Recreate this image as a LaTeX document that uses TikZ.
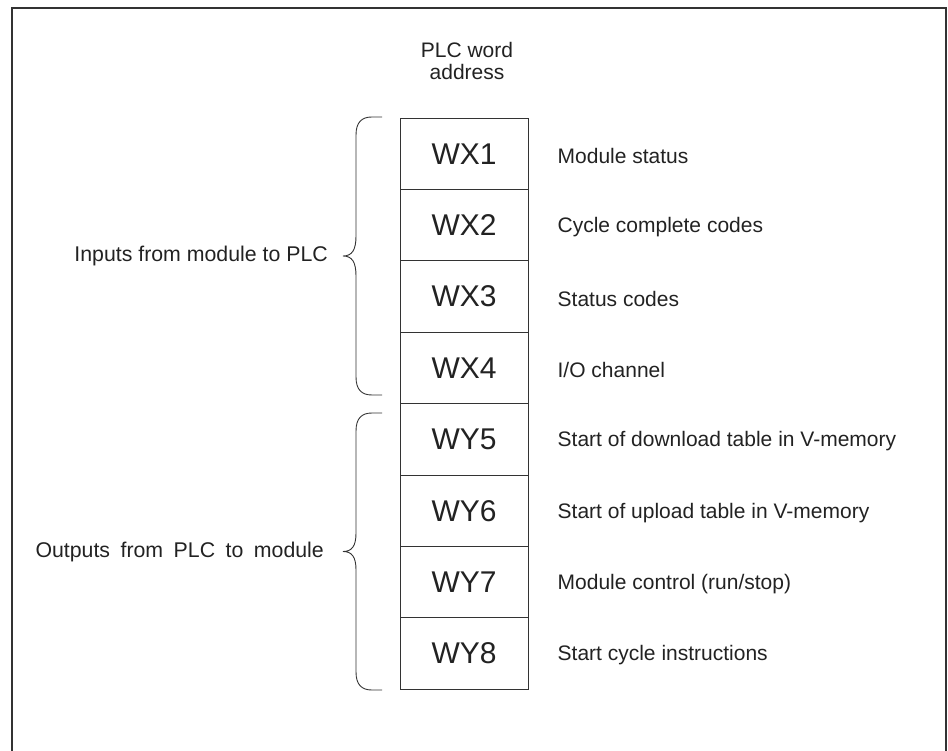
\documentclass[tikz,border=0pt]{standalone}
\usepackage{fontspec}
\setmainfont{Liberation Sans}
\definecolor{ink}{HTML}{222222}
\definecolor{rule}{HTML}{333333}
\begin{document}
\begin{tikzpicture}[x=1pt,y=-1pt,
  cell/.style={draw=rule,line width=0.9pt,minimum width=128pt,minimum height=71.4pt,
    inner sep=0pt,font=\fontsize{30}{30}\selectfont,text=ink},
  desc/.style={anchor=west,inner sep=0pt,font=\fontsize{21}{21}\selectfont,text=ink},
  side/.style={anchor=east,inner sep=0pt,font=\fontsize{21.3}{21}\selectfont,text=ink},
  bracket/.style={draw=rule,line width=0.9pt}]
\useasboundingbox (0,0) rectangle (948,751);
% open frame
\draw[rule,line width=2pt] (12,751) -- (12,8) -- (946,8) -- (946,751);
% heading
\node[align=center,inner sep=0pt,text=ink,font=\fontsize{21}{22.5}\selectfont] (head) at (467,61) {PLC word\\address};
% register column
\foreach \i/\t in {1/WX1,2/WX2,3/WX3,4/WX4,5/WY5,6/WY6,7/WY7,8/WY8}{
  \node[cell] (r\i) at (464,{118+71.4*(\i-0.5)}) {\t};
}
% descriptions
\foreach \i/\t in {1/{Module status},2/{Cycle complete codes},3/{Status codes},4/{I/O channel},
  5/{Start of download table in V-memory},6/{Start of upload table in V-memory},
  7/{Module control (run/stop)},8/{Start cycle instructions}}{
  \node[desc] (l\i) at ([xshift=29pt,yshift=-2pt]r\i.east) {\t};
}
% braces
\coordinate (ia) at (382,117);
\coordinate (ib) at (382,395);
\coordinate (oa) at (382,413);
\coordinate (ob) at (382,690);
\draw[bracket] (ia) -- (372,117) .. controls (362,117) and (356,122) .. (356,135)
  -- (356,236) .. controls (356,250) and (352,256) .. (343,256)
  .. controls (352,256) and (356,262) .. (356,276)
  -- (356,377) .. controls (356,390) and (362,395) .. (372,395) -- (ib);
\draw[bracket] (oa) -- (372,413) .. controls (362,413) and (356,418) .. (356,431)
  -- (356,533) .. controls (356,546) and (352,551.5) .. (343,551.5)
  .. controls (352,551.5) and (356,557) .. (356,570)
  -- (356,672) .. controls (356,685) and (362,690) .. (372,690) -- (ob);
\node[side] (inp) at (328,256) {Inputs from module to PLC};
\node[side] (outp) at (324,551.5) {\spaceskip=10.5pt Outputs from PLC to module};
\end{tikzpicture}
\end{document}
